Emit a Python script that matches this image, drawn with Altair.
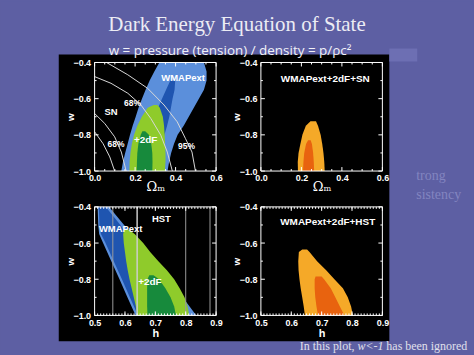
import altair as alt
import pandas as pd

# ---------------- colours ----------------
BG = "#5d5fa3"
LB, DB, LG, DG = "#5b8fdb", "#1f55b0", "#8fcb2b", "#178a3c"
LO, DO = "#f5a928", "#e8630f"

# ---------------- Panel A : WMAPext, +2dF, SN  (Omega_m, w) ----------------
A_LB_W  = [-0.40, -0.45, -0.50, -0.55, -0.60, -0.65, -0.70, -0.75, -0.80, -0.85, -0.90, -0.95, -1.00]
A_LB_LO = [0.320, 0.295, 0.272, 0.252, 0.234, 0.217, 0.203, 0.188, 0.175, 0.163, 0.151, 0.140, 0.132]
A_LB_HI = [0.540, 0.553, 0.553, 0.540, 0.515, 0.490, 0.465, 0.440, 0.410, 0.392, 0.378, 0.368, 0.360]
A_DB_W  = [-0.50, -0.55, -0.60, -0.65, -0.70, -0.75, -0.80, -0.90, -1.00]
A_DB_LO = [0.374, 0.353, 0.333, 0.314, 0.298, 0.281, 0.262, 0.232, 0.205]
A_DB_HI = [0.398, 0.395, 0.385, 0.377, 0.369, 0.358, 0.345, 0.320, 0.300]
A_LG_W  = [-0.635, -0.65, -0.70, -0.75, -0.80, -0.85, -0.90, -0.95, -1.00]
A_LG_LO = [0.292, 0.262, 0.233, 0.211, 0.195, 0.184, 0.177, 0.173, 0.172]
A_LG_HI = [0.310, 0.322, 0.337, 0.343, 0.346, 0.348, 0.350, 0.350, 0.347]
A_DG_W  = [-0.78, -0.80, -0.85, -0.90, -0.95, -1.00]
A_DG_LO = [0.236, 0.228, 0.216, 0.211, 0.209, 0.208]
A_DG_HI = [0.250, 0.268, 0.280, 0.285, 0.286, 0.285]
# SN confidence boundaries
SN1_OM = [0.059, 0.164, 0.262, 0.343, 0.408, 0.449, 0.481, 0.498]
SN1_W  = [-0.40, -0.468, -0.543, -0.635, -0.728, -0.821, -0.895, -1.0]
SN2_OM = [0.0, 0.081, 0.164, 0.229, 0.278, 0.327, 0.359, 0.384]
SN2_W  = [-0.478, -0.515, -0.57, -0.635, -0.71, -0.802, -0.895, -1.0]
SN3_OM = [0.0, 0.05, 0.099, 0.132, 0.156]
SN3_W  = [-0.682, -0.737, -0.811, -0.895, -1.0]
SN4_OM = [0.0, 0.042, 0.075, 0.099]
SN4_W  = [-0.783, -0.849, -0.922, -1.0]
A_LABELS = ["WMAPext", "SN", "68%", "68%", "+2dF", "95%"]
A_LAB_X  = [0.437, 0.081, 0.187, 0.106, 0.252, 0.454]
A_LAB_Y  = [-0.484, -0.675, -0.624, -0.850, -0.829, -0.859]

# ---------------- Panel B : WMAPext+2dF+SN ----------------
B_LO_W  = [-0.725, -0.75, -0.80, -0.85, -0.90, -0.95, -1.00]
B_LO_LO = [0.245, 0.222, 0.205, 0.195, 0.186, 0.182, 0.183]
B_LO_HI = [0.272, 0.282, 0.295, 0.303, 0.309, 0.313, 0.315]
B_DO_W  = [-0.83, -0.85, -0.90, -0.95, -1.00]
B_DO_LO = [0.233, 0.223, 0.214, 0.210, 0.208]
B_DO_HI = [0.246, 0.252, 0.258, 0.261, 0.263]
B_LABEL = "WMAPext+2dF+SN"

# ---------------- Panel C : WMAPext, +2dF, HST  (h, w) ----------------
C_LB_W  = [-0.40, -0.50, -0.55, -0.60, -0.70, -0.80, -0.90, -1.00]
C_LB_LO = [0.510, 0.512, 0.515, 0.528, 0.555, 0.582, 0.608, 0.635]
C_LB_HI = [0.548, 0.597, 0.622, 0.647, 0.697, 0.744, 0.790, 0.835]
C_DB_W  = [-0.40, -0.50, -0.55, -0.60, -0.70, -0.80, -0.90, -1.00]
C_DB_LO = [0.514, 0.516, 0.521, 0.536, 0.563, 0.590, 0.616, 0.643]
C_DB_HI = [0.537, 0.585, 0.605, 0.630, 0.660, 0.690, 0.720, 0.750]
C_LG_W  = [-0.525, -0.55, -0.60, -0.65, -0.70, -0.75, -0.80, -0.85, -0.90, -0.95, -1.00]
C_LG_LO = [0.598, 0.594, 0.596, 0.600, 0.604, 0.609, 0.615, 0.622, 0.629, 0.636, 0.640]
C_LG_HI = [0.612, 0.632, 0.660, 0.683, 0.710, 0.738, 0.762, 0.780, 0.796, 0.806, 0.812]
C_DG_W  = [-0.778, -0.80, -0.85, -0.90, -0.95, -1.00]
C_DG_LO = [0.680, 0.674, 0.673, 0.673, 0.673, 0.674]
C_DG_HI = [0.694, 0.712, 0.733, 0.750, 0.762, 0.768]
C_HST   = [0.56, 0.64, 0.80, 0.88]
C_LABELS = ["HST", "WMAPext", "+2dF"]
C_LAB_X  = [0.720, 0.586, 0.682]
C_LAB_Y  = [-0.468, -0.525, -0.815]

# ---------------- Panel D : WMAPext+2dF+HST ----------------
D_LO_W  = [-0.635, -0.65, -0.70, -0.75, -0.80, -0.85, -0.90, -0.95, -1.00]
D_LO_LO = [0.636, 0.625, 0.623, 0.624, 0.627, 0.631, 0.636, 0.641, 0.645]
D_LO_HI = [0.652, 0.660, 0.685, 0.715, 0.742, 0.770, 0.786, 0.797, 0.803]
D_DO_W  = [-0.785, -0.80, -0.85, -0.90, -0.95, -1.00]
D_DO_LO = [0.680, 0.677, 0.677, 0.679, 0.683, 0.688]
D_DO_HI = [0.700, 0.708, 0.730, 0.745, 0.760, 0.775]
D_LABEL = "WMAPext+2dF+HST"

# ---------------- axes ----------------
OM_MAJOR = [0.0, 0.2, 0.4, 0.6]
OM_MINOR = [0.05, 0.1, 0.15, 0.25, 0.3, 0.35, 0.45, 0.5, 0.55]
H_MAJOR = [0.5, 0.6, 0.7, 0.8, 0.9]
H_MINOR = [round(0.5 + 0.01 * i, 2) for i in range(41)]
W_MAJOR = [-1.0, -0.8, -0.6, -0.4]
W_MINOR = [-0.9, -0.7, -0.5]

# ---------------- layout ----------------
PW, PH = 122, 109
OX, OY = 94, 61  # top-left corner of first panel in the slide
ONE = pd.DataFrame({"k": [0]})
SANS = "Liberation Sans"


def make_panel(xdom, xmaj, xmin, xtitle, xfont, xweight, xsize, xty, layers):
    xs = alt.Scale(domain=xdom, nice=False, zero=False)
    ys = alt.Scale(domain=[-1.0, -0.4], nice=False, zero=False)
    xax = alt.Axis(values=xmaj, format=".1f", title=xtitle, domain=False, ticks=False, grid=False,
                   labelColor="white", labelFont=SANS, labelFontWeight="bold", labelFontSize=9,
                   labelPadding=3, labelFlush=False, titleColor="white", titleFont=xfont,
                   titleFontWeight=xweight, titleFontSize=xsize, titleY=xty, titleBaseline="middle",
                   zindex=1)
    yax = alt.Axis(values=W_MAJOR, format=".1f", title="w", domain=False, ticks=False, grid=False,
                   labelColor="white", labelFont=SANS, labelFontWeight="bold", labelFontSize=9,
                   labelPadding=4, labelFlush=False, titleColor="white", titleFont=SANS,
                   titleFontWeight="bold", titleFontSize=10, titleX=-24, titleY=PH / 2,
                   titleBaseline="middle", zindex=1)

    def X(f):
        return alt.X(f, type="quantitative", scale=xs, axis=xax)

    def Y(f):
        return alt.Y(f, type="quantitative", scale=ys, axis=yax)

    def band(w, lo, hi, color):
        df = pd.DataFrame({"w": w, "lo": lo, "hi": hi})
        return alt.Chart(df).mark_area(orient="horizontal", color=color, opacity=1).encode(
            y=Y("w"), x=X("lo"), x2=alt.X2("hi"))

    def curve(xv, yv, color, width=1):
        df = pd.DataFrame({"x": xv, "y": yv, "i": list(range(len(xv)))})
        return alt.Chart(df).mark_line(color=color, strokeWidth=width).encode(
            x=X("x"), y=Y("y"), order="i:Q")

    def vlines(vals, color):
        df = pd.DataFrame({"v": vals})
        return alt.Chart(df).mark_rule(color=color, strokeWidth=1).encode(
            x=X("v"), y=alt.value(0), y2=alt.value(PH))

    def labels(txts, xv, yv, size):
        df = pd.DataFrame({"t": txts, "x": xv, "y": yv})
        return alt.Chart(df).mark_text(color="white", font=SANS, fontWeight="bold",
                                       fontSize=size).encode(x=X("x"), y=Y("y"), text="t:N")

    tools = dict(band=band, curve=curve, vlines=vlines, labels=labels)
    content = layers(tools)

    ticks = []
    for vals, L in ((xmaj, 4), (xmin, 2)):
        df = pd.DataFrame({"v": vals})
        ticks.append(alt.Chart(df).mark_rule(color="white", strokeWidth=1).encode(
            x=X("v"), y=alt.value(PH), y2=alt.value(PH - L)))
        ticks.append(alt.Chart(df).mark_rule(color="white", strokeWidth=1).encode(
            x=X("v"), y=alt.value(0), y2=alt.value(L)))
    for vals, L in ((W_MAJOR, 4), (W_MINOR, 2)):
        df = pd.DataFrame({"v": vals})
        ticks.append(alt.Chart(df).mark_rule(color="white", strokeWidth=1).encode(
            y=Y("v"), x=alt.value(0), x2=alt.value(L)))
        ticks.append(alt.Chart(df).mark_rule(color="white", strokeWidth=1).encode(
            y=Y("v"), x=alt.value(PW - L), x2=alt.value(PW)))
    frame = alt.Chart(ONE).mark_rect(fillOpacity=0, stroke="white", strokeWidth=1).encode(
        x=alt.value(0), x2=alt.value(PW), y=alt.value(0), y2=alt.value(PH))
    return content + ticks + [frame]


def ptext(txt, x, y, **kw):
    return alt.Chart(ONE).mark_text(text=txt, **kw).encode(x=alt.value(x - OX), y=alt.value(y - OY))


def prect(x1, y1, x2, y2, color):
    return alt.Chart(ONE).mark_rect(color=color, opacity=1).encode(
        x=alt.value(x1 - OX), x2=alt.value(x2 - OX), y=alt.value(y1 - OY), y2=alt.value(y2 - OY))


FOOT = "#e0e0ec"
slide = [
    prect(0, 0, 474, 355, BG),
    prect(58, 53, 390, 341, "black"),
    prect(390, 47, 418, 60, "#6d6fb3"),
    ptext("Dark Energy Equation of State", 237, 23, font="Liberation Serif", fontSize=21,
          color="#ececf4", align="center", baseline="middle"),
    ptext("w = pressure (tension) / density = p/\u03c1c\u00b2", 230, 53.5, font="Open Sans",
          fontSize=13.5, color="#f2f2f8", align="center", baseline="alphabetic"),
    ptext("trong", 417, 175, font="Liberation Serif", fontSize=14, color="#8385c0",
          align="left", baseline="middle"),
    ptext("sistency", 417, 194, font="Liberation Serif", fontSize=14, color="#8385c0",
          align="left", baseline="middle"),
    ptext("In this plot,", 300, 349.5, font="Liberation Serif", fontSize=12, color=FOOT,
          align="left", baseline="alphabetic"),
    ptext("w<-1", 358, 349.5, font="Liberation Serif", fontSize=12, fontStyle="italic",
          color=FOOT, align="left", baseline="alphabetic"),
    ptext("has been ignored", 387, 349.5, font="Liberation Serif", fontSize=12, color=FOOT,
          align="left", baseline="alphabetic"),
]


def layers_a(t):
    return slide + [
        t["band"](A_LB_W, A_LB_LO, A_LB_HI, LB),
        t["band"](A_DB_W, A_DB_LO, A_DB_HI, DB),
        t["band"](A_LG_W, A_LG_LO, A_LG_HI, LG),
        t["band"](A_DG_W, A_DG_LO, A_DG_HI, DG),
        t["curve"](SN1_OM, SN1_W, "#d8d8d8"),
        t["curve"](SN2_OM, SN2_W, "#d8d8d8"),
        t["curve"](SN3_OM, SN3_W, "#d8d8d8"),
        t["curve"](SN4_OM, SN4_W, "#d8d8d8"),
        t["labels"](A_LABELS[:2], A_LAB_X[:2], A_LAB_Y[:2], 9.5),
        t["labels"](A_LABELS[2:4], A_LAB_X[2:4], A_LAB_Y[2:4], 8.5),
        t["labels"](A_LABELS[4:5], A_LAB_X[4:5], A_LAB_Y[4:5], 10),
        t["labels"](A_LABELS[5:], A_LAB_X[5:], A_LAB_Y[5:], 8.5),
    ]


def layers_b(t):
    return [
        t["band"](B_LO_W, B_LO_LO, B_LO_HI, LO),
        t["band"](B_DO_W, B_DO_LO, B_DO_HI, DO),
        t["labels"]([B_LABEL], [0.318], [-0.492], 10),
    ]


def layers_c(t):
    return [
        t["band"](C_LB_W, C_LB_LO, C_LB_HI, LB),
        t["band"](C_DB_W, C_DB_LO, C_DB_HI, DB),
        t["band"](C_LG_W, C_LG_LO, C_LG_HI, LG),
        t["band"](C_DG_W, C_DG_LO, C_DG_HI, DG),
        t["vlines"](C_HST, "#9a9a9a"),
        t["vlines"](C_HST[1:2], "#e6e6e6"),
        t["labels"](C_LABELS[:2], C_LAB_X[:2], C_LAB_Y[:2], 9.5),
        t["labels"](C_LABELS[2:], C_LAB_X[2:], C_LAB_Y[2:], 10),
    ]


def layers_d(t):
    return [
        t["band"](D_LO_W, D_LO_LO, D_LO_HI, LO),
        t["band"](D_DO_W, D_DO_LO, D_DO_HI, DO),
        t["labels"]([D_LABEL], [0.72], [-0.486], 10),
    ]


OMT = "\u03a9\u2098"
pA = alt.layer(*make_panel([0, 0.6], OM_MAJOR, OM_MINOR, OMT, "DejaVu Serif", "normal", 13, 16, layers_a)).properties(width=PW, height=PH)
pB = alt.layer(*make_panel([0, 0.6], OM_MAJOR, OM_MINOR, OMT, "DejaVu Serif", "normal", 13, 16, layers_b)).properties(width=PW, height=PH)
pC = alt.layer(*make_panel([0.5, 0.9], H_MAJOR, H_MINOR, "h", SANS, "bold", 11, 18, layers_c)).properties(width=PW, height=PH)
pD = alt.layer(*make_panel([0.5, 0.9], H_MAJOR, H_MINOR, "h", SANS, "bold", 11, 18, layers_d)).properties(width=PW, height=PH)

chart = alt.concat(pA, pB, pC, pD, columns=2, spacing={"row": 36, "column": 45}, bounds="flush").properties(
    padding=0, autosize=alt.AutoSizeParams(type="pad")
).configure(background=BG).configure_view(stroke="transparent")

chart.save("out.html", embed_options={"renderer": "svg", "actions": False})
